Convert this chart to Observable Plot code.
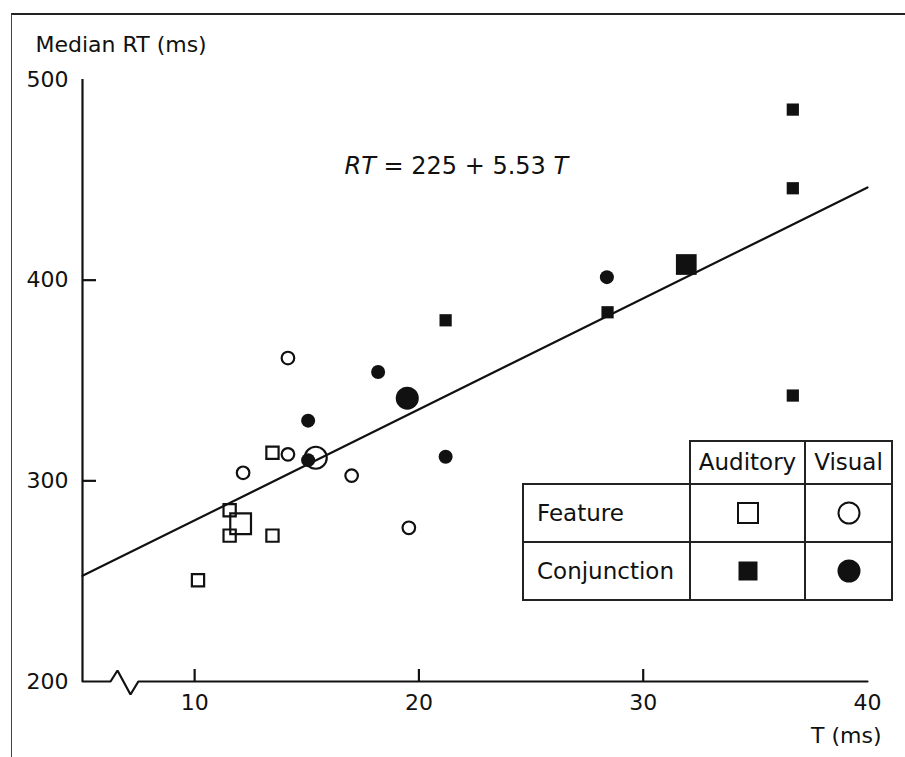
<!DOCTYPE html>
<html>
<head>
<meta charset="utf-8">
<script src="https://cdn.jsdelivr.net/npm/d3@7"></script>
<script src="https://cdn.jsdelivr.net/npm/@observablehq/plot@0.6"></script>
<style>
html,body{margin:0;padding:0;background:#fff;}
#wrap{position:relative;width:905px;height:757px;overflow:hidden;font-family:"DejaVu Sans",sans-serif;color:#111;background:#fff;}
#frame{position:absolute;left:11px;top:13px;width:900px;height:760px;border-left:1.5px solid #444;border-top:2px solid #222;}
#chart{position:absolute;left:0;top:0;}
#legend{position:absolute;left:522px;top:440px;border-collapse:collapse;table-layout:fixed;width:369px;font-size:23px;background:#fff;}
#legend td{border:2px solid #222;padding:0;text-align:center;vertical-align:middle;line-height:1;}
#legend tr.h td{height:41px;}
#legend tr.r td{height:56px;}
#legend td.blank{border-top:none;border-left:none;}
#legend td.lab{text-align:left;padding-left:13px;}
#legend svg{display:block;margin:0 auto;}
</style>
</head>
<body>
<div id="wrap"><div id="frame"></div><div id="chart"></div></div>
<script>
// ---- data ----
const xDomain = [5, 40];
const yDomain = [200, 500];
const xTicks = [10, 20, 30, 40];
const yTicks = [200, 300, 400, 500];
const xInnerTicks = [10, 20, 30];
const yInnerTicks = [300, 400];

// axis line with break symbol (T, RT)
const axisLineT  = [5, 6.25, 6.56, 7.14, 7.49, 40];
const axisLineRT = [200, 200, 205.5, 193.5, 200, 200];

// fitted line RT = 225 + 5.53 T
const fitIntercept = 225;
const fitSlope = 5.53;

// Auditory / Feature (open squares)
const afT  = [10.15, 11.56, 11.56, 13.47, 13.47];
const afRT = [250.5, 285.3, 272.7, 314.0, 272.7];
// Visual / Feature (open circles)
const vfT  = [14.16, 12.16, 14.16, 17.0, 19.55];
const vfRT = [361.2, 304.0, 313.2, 302.6, 276.6];
// Auditory / Conjunction (filled squares)
const acT  = [21.19, 28.41, 36.67, 36.67, 36.67];
const acRT = [380.0, 384.0, 485.0, 445.8, 342.5];
// Visual / Conjunction (filled circles)
const vcT  = [28.38, 18.18, 15.06, 15.06, 21.19];
const vcRT = [401.5, 354.2, 330.0, 310.3, 312.0];

// group means (large symbols): af, vf, ac, vc
const meanGroup = ["af", "vf", "ac", "vc"];
const meanT  = [12.05, 15.40, 31.92, 19.48];
const meanRT = [278.6, 311.5, 407.8, 341.2];

const equationText = "RT = 225 + 5.53 T";
const yLabel = "Median RT (ms)";
const xLabel = "T (ms)";
const legendCols = ["Auditory", "Visual"];
const legendRows = ["Feature", "Conjunction"];

// ---- build ----
const rows = (ts, rs) => ts.map((t, i) => ({T: t, RT: rs[i]}));
const axisLine = rows(axisLineT, axisLineRT);
const fitLine = xDomain.map(t => ({T: t, RT: fitIntercept + fitSlope * t}));
const means = meanGroup.map((g, i) => ({g, T: meanT[i], RT: meanRT[i]}));

const W = 905, H = 757;
const mL = 82, mR = 38, mT = 79, mB = 76;
const plotW = W - mL - mR, plotH = H - mT - mB;
const ink = "#111";
const sw = 2.2;

const chart = Plot.plot({
  width: W, height: H,
  marginLeft: mL, marginRight: mR, marginTop: mT, marginBottom: mB,
  x: {domain: xDomain, label: null},
  y: {domain: yDomain, label: null},
  style: {fontFamily: "DejaVu Sans, sans-serif", fontSize: "22px", color: ink, background: "transparent", overflow: "visible"},
  marks: [
    Plot.axisX(xTicks, {tickSize: 0, tickPadding: 13, fontSize: 22, label: null, fill: ink}),
    Plot.axisY(yTicks, {tickSize: 0, tickPadding: 14, fontSize: 22, label: null, fill: ink}),
    Plot.ruleX([xDomain[0]], {y1: yDomain[0], y2: yDomain[1], stroke: ink, strokeWidth: sw}),
    Plot.line(axisLine, {x: "T", y: "RT", stroke: ink, strokeWidth: sw, strokeLinejoin: "miter"}),
    Plot.ruleY(yInnerTicks, {insetRight: plotW - 14, stroke: ink, strokeWidth: sw}),
    Plot.ruleX(xInnerTicks, {insetTop: plotH - 12, stroke: ink, strokeWidth: sw}),
    Plot.line(fitLine, {x: "T", y: "RT", stroke: ink, strokeWidth: sw}),
    // individual points
    Plot.dot(rows(afT, afRT), {x: "T", y: "RT", symbol: "square", r: 6.9, stroke: ink, strokeWidth: sw, fill: "none"}),
    Plot.dot(rows(vfT, vfRT), {x: "T", y: "RT", symbol: "circle", r: 6.3, stroke: ink, strokeWidth: sw, fill: "none"}),
    Plot.dot(rows(acT, acRT), {x: "T", y: "RT", symbol: "square", r: 6.9, fill: ink, stroke: "none"}),
    Plot.dot(rows(vcT, vcRT), {x: "T", y: "RT", symbol: "circle", r: 7, fill: ink, stroke: "none"}),
    // means
    Plot.dot(means.filter(d => d.g === "af"), {x: "T", y: "RT", symbol: "square", r: 11.7, stroke: ink, strokeWidth: sw, fill: "none"}),
    Plot.dot(means.filter(d => d.g === "vf"), {x: "T", y: "RT", symbol: "circle", r: 11, stroke: ink, strokeWidth: sw, fill: "none"}),
    Plot.dot(means.filter(d => d.g === "ac"), {x: "T", y: "RT", symbol: "square", r: 11.7, fill: ink, stroke: "none"}),
    Plot.dot(means.filter(d => d.g === "vc"), {x: "T", y: "RT", symbol: "circle", r: 11.5, fill: ink, stroke: "none"}),
    // texts
    Plot.text([yLabel], {text: d => d, frameAnchor: "top-left", textAnchor: "start", lineAnchor: "bottom", dx: -47, dy: -28, fontSize: 22, fill: ink}),
    Plot.text([xLabel], {text: d => d, frameAnchor: "bottom-right", textAnchor: "end", lineAnchor: "bottom", dx: 14, dy: 61, fontSize: 22, fill: ink}),
    Plot.text([equationText], {text: d => d, frameAnchor: "top-left", textAnchor: "start", lineAnchor: "bottom", dx: 262, dy: 94, fontSize: 24, fill: ink})
  ]
});
document.getElementById("chart").appendChild(chart);

// italicise the variables of the equation
d3.select(chart).selectAll("text").filter(function() { return this.textContent === equationText; })
  .each(function() {
    const t = d3.select(this);
    const parts = equationText.match(/^(\S+)(.*\s)(\S+)$/);
    t.text(null);
    t.append("tspan").attr("font-style", "italic").text(parts[1]);
    t.append("tspan").attr("xml:space", "preserve").style("white-space", "pre").text(parts[2]);
    t.append("tspan").attr("font-style", "italic").text(parts[3]);
  });

// ---- legend table ----
function symbolSvg(kind) {
  const s = 26, c = s / 2;
  let inner = "";
  if (kind === "af") inner = `<rect x="${c-10}" y="${c-10}" width="20" height="20" fill="none" stroke="${ink}" stroke-width="2"/>`;
  if (kind === "vf") inner = `<circle cx="${c}" cy="${c}" r="10.5" fill="none" stroke="${ink}" stroke-width="2"/>`;
  if (kind === "ac") inner = `<rect x="${c-9.5}" y="${c-9.5}" width="19" height="19" fill="${ink}"/>`;
  if (kind === "vc") inner = `<circle cx="${c}" cy="${c}" r="11.5" fill="${ink}"/>`;
  return `<svg width="${s}" height="${s}" viewBox="0 0 ${s} ${s}">${inner}</svg>`;
}
const kinds = [["af", "vf"], ["ac", "vc"]];
let html = `<colgroup><col style="width:167px"><col style="width:115px"><col style="width:87px"></colgroup>`;
html += `<tr class="h"><td class="blank"></td>${legendCols.map(c => `<td>${c}</td>`).join("")}</tr>`;
legendRows.forEach((r, i) => {
  html += `<tr class="r"><td class="lab">${r}</td>${kinds[i].map(k => `<td>${symbolSvg(k)}</td>`).join("")}</tr>`;
});
const table = document.createElement("table");
table.id = "legend";
table.innerHTML = html;
document.getElementById("wrap").appendChild(table);
</script>
</body>
</html>
